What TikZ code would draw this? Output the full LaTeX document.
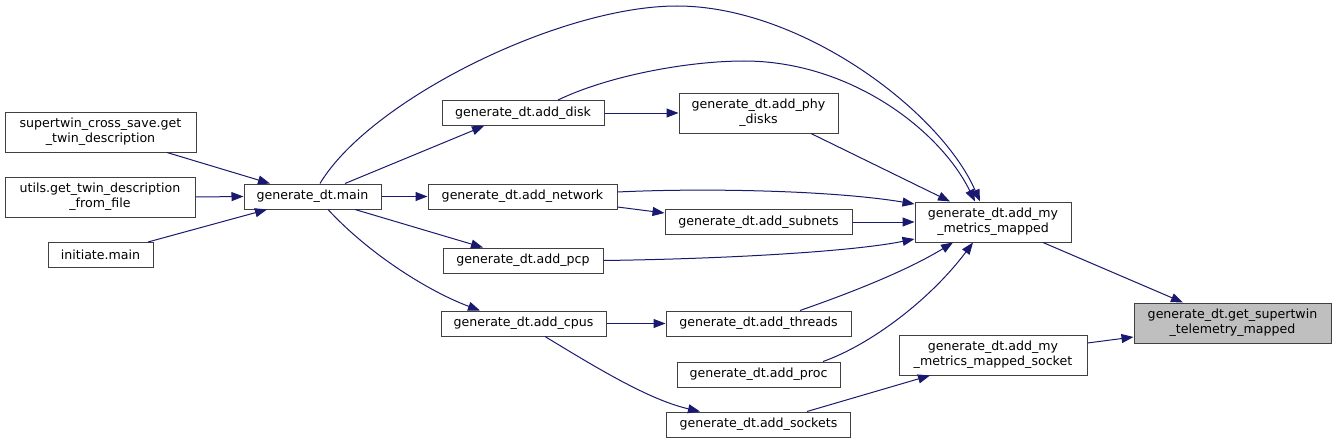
\documentclass[tikz,border=0pt]{standalone}
\usepackage{fontspec}
\setmainfont{DejaVu Sans}
\usetikzlibrary{arrows.meta}
\definecolor{edgeblue}{HTML}{191970}
\definecolor{boxgray}{HTML}{BFBFBF}
\definecolor{boxline}{HTML}{404040}
\tikzset{
  fn/.style={draw=boxline, line width=1pt, fill=white, inner sep=0pt, align=center,
    font=\fontsize{12.6}{15}\selectfont, minimum height=25pt},
  fntwo/.style={fn, minimum height=40pt},
  call/.style={draw=edgeblue, line width=1pt, -{Triangle[length=12pt,width=9pt]}, fill=none},
}
\begin{document}
\begin{tikzpicture}[x=1pt,y=-1pt]
\useasboundingbox[fill=white] (0,0) rectangle (1336,444);
% nodes
\node[fntwo, minimum width=191pt] (st) at (100.5,132) {supertwin\_cross\_save.get\\\_twin\_description};
\node[fntwo, minimum width=190pt] (ut) at (100,197) {utils.get\_twin\_description\\\_from\_file};
\node[fn, minimum width=105pt] (im) at (100.5,255) {initiate.main};
\node[fn, minimum width=137pt] (mn) at (312.5,196.5) {generate\_dt.main};
\node[fn, minimum width=162pt] (dk) at (523,113) {generate\_dt.add\_disk};
\node[fntwo, minimum width=159pt] (pd) at (758.5,113) {generate\_dt.add\_phy\\\_disks};
\node[fn, minimum width=189pt] (nw) at (522.5,196.5) {generate\_dt.add\_network};
\node[fn, minimum width=187pt] (sn) at (758.5,222) {generate\_dt.add\_subnets};
\node[fn, minimum width=160pt] (pcp) at (523,260.5) {generate\_dt.add\_pcp};
\node[fn, minimum width=165pt] (cpu) at (523.5,323.5) {generate\_dt.add\_cpus};
\node[fn, minimum width=185pt] (th) at (758.5,323.5) {generate\_dt.add\_threads};
\node[fn, minimum width=163pt] (pr) at (758.5,374.5) {generate\_dt.add\_proc};
\node[fn, minimum width=184pt] (sk) at (758.5,424.5) {generate\_dt.add\_sockets};
\node[fntwo, minimum width=156pt] (mm) at (993,222) {generate\_dt.add\_my\\\_metrics\_mapped};
\node[fntwo, minimum width=188pt] (ms) at (993,355) {generate\_dt.add\_my\\\_metrics\_mapped\_socket};
\node[fntwo, minimum width=197pt, fill=boxgray] (gs) at (1232.5,323) {generate\_dt.get\_supertwin\\\_telemetry\_mapped};
% edges
\draw[call] ([xshift=66.5pt]st.south) -- ([xshift=-42.5pt]mn.north);
\draw[call] (ut.east) -- (mn.west);
\draw[call] ([xshift=47.5pt]im.north) -- ([xshift=-45.5pt]mn.south);
\draw[call] ([xshift=32.5pt]mn.north) -- ([xshift=-39pt]dk.south);
\draw[call] (mn.east) -- (nw.west);
\draw[call] ([xshift=42.5pt]mn.south) -- ([xshift=-40pt]pcp.north);
\draw[call] ([xshift=15.5pt]mn.south) .. controls (370,255) and (430,292) .. ([xshift=-43.5pt]cpu.north);
\draw[call] ([xshift=7.5pt]mn.north) .. controls (370,100) and (560,6) .. (677,6)
   .. controls (800,6) and (940,110) .. ([xshift=-13pt]mm.north);
\draw[call] (dk.east) -- (pd.west);
\draw[call] ([xshift=35pt]dk.north) .. controls (610,75) and (690,61) .. (744,61)
   .. controls (850,61) and (940,130) .. ([xshift=-18pt]mm.north);
\draw[call] ([xshift=52.5pt]pd.south) -- ([xshift=-43pt]mm.north);
\draw[call] ([yshift=4.5pt]nw.east) .. controls (700,188) and (830,190) .. ([yshift=18pt]mm.west);
\draw[call] ([yshift=-10.5pt]nw.east) -- ([yshift=9pt]sn.west);
\draw[call] (sn.east) -- (mm.west);
\draw[call] (pcp.east) .. controls (720,259) and (850,252) .. ([yshift=-17pt]mm.west);
\draw[call] (cpu.east) -- (th.west);
\draw[call] ([xshift=21.5pt]cpu.south) .. controls (600,370) and (650,400) .. ([xshift=-58.5pt]sk.north);
\draw[call] ([xshift=41.5pt]th.north) .. controls (830,300) and (900,275) .. ([xshift=-40pt]mm.south);
\draw[call] ([xshift=64.5pt]pr.north) .. controls (870,345) and (930,300) .. ([xshift=-20pt]mm.south);
\draw[call] ([xshift=48.5pt]sk.north) -- ([xshift=-63pt]ms.south);
\draw[call] ([xshift=50pt]mm.south) -- ([xshift=-49.5pt]gs.north);
\draw[call] ([yshift=12pt]ms.east) -- ([yshift=-14pt]gs.west);
\end{tikzpicture}
\end{document}
